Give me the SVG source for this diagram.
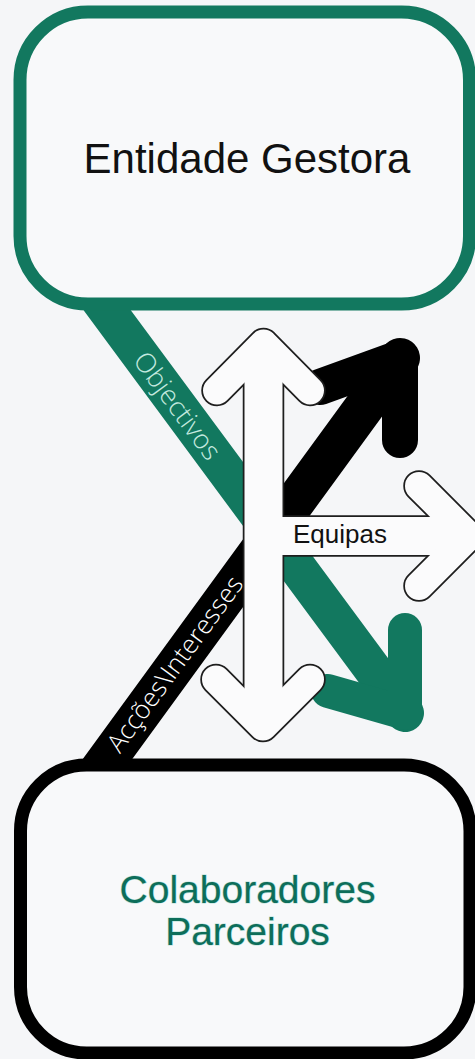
<svg xmlns="http://www.w3.org/2000/svg" width="475" height="1059" viewBox="0 0 475 1059">
  <style>
    .band { fill: none; stroke-linecap: round; stroke-linejoin: round; }
    .teal { stroke: #12785f; }
    .blk { stroke: #000000; }
    .wo { fill: none; stroke: #1e1e1e; stroke-linecap: round; stroke-linejoin: round; }
    .wi { fill: none; stroke: #fbfbfc; stroke-linecap: round; stroke-linejoin: round; }
    .box { fill: #f8f9fa; stroke-width: 13; }
    .lbl { font-family: "Open Sans", "Liberation Sans", sans-serif; font-weight: 300; text-anchor: middle; }
    .title { font-family: "Liberation Sans", Arial, sans-serif; text-anchor: middle; }
    .eq { font-family: "Liberation Sans", Arial, sans-serif; text-anchor: start; font-size: 26px; fill: #111111; }
  </style>
  <rect x="0" y="0" width="475" height="1059" fill="#f5f6f8"/>

  <g id="connectors">
    <!-- teal arrow: Objectivos -->
    <g id="arrow-objectivos">
      <path class="band teal" stroke-width="38" stroke-linecap="butt" d="M99.6,300 L405,713"/>
      <path class="band teal" stroke-width="34" d="M405,630 L405,713 L328,691"/>
      <text class="lbl" font-size="27" fill="#c3e9df" transform="translate(177,406) rotate(53.5)" x="0" y="9">Objectivos</text>
    </g>
    <!-- black arrow: Acções\Interesses -->
    <g id="arrow-accoes">
      <path class="band blk" stroke-width="40" stroke-linecap="butt" d="M99.5,770 L400,358"/>
      <path class="band blk" stroke-width="36" d="M320,387 L400,358 L400,440"/>
      <text class="lbl" font-size="26" fill="#ffffff" transform="translate(175,664) rotate(-53.8)" x="0" y="9">Acções\Interesses</text>
    </g>
    <!-- white outlined arrows: vertical double arrow + Equipas -->
    <g id="arrow-equipas">
      <path class="wo" stroke-width="41.5" stroke-linecap="butt" d="M263.5,362 V708 M263.5,536 H455"/>
      <path class="wo" stroke-width="31.5" d="M217,390.5 L263.5,343.5 L310,390.5 M216,679.5 L263,726.5 L310,679.5 M419,486 L469,536 L419,586"/>
      <path class="wi" stroke-width="38" stroke-linecap="butt" d="M263.5,362 V708 M263.5,536 H455"/>
      <path class="wi" stroke-width="28" d="M217,390.5 L263.5,343.5 L310,390.5 M216,679.5 L263,726.5 L310,679.5 M419,486 L469,536 L419,586"/>
      <text class="eq" x="293" y="543">Equipas</text>
    </g>
  </g>

  <g id="node-entidade">
    <rect class="box" x="20" y="12" width="449.5" height="292" rx="68" ry="68" stroke="#12785f"/>
    <text class="title" x="247" y="173" font-size="42" fill="#111111">Entidade Gestora</text>
  </g>

  <g id="node-colaboradores">
    <rect class="box" x="20.5" y="765" width="449.5" height="288" rx="66" ry="66" stroke="#000000"/>
    <text class="title" x="247.5" y="903" font-size="39" fill="#0d6e5a" stroke="#b9e2da" stroke-width="1.2" paint-order="stroke">Colaboradores</text>
    <text class="title" x="247.5" y="945" font-size="39" fill="#0d6e5a" stroke="#b9e2da" stroke-width="1.2" paint-order="stroke">Parceiros</text>
  </g>
</svg>
